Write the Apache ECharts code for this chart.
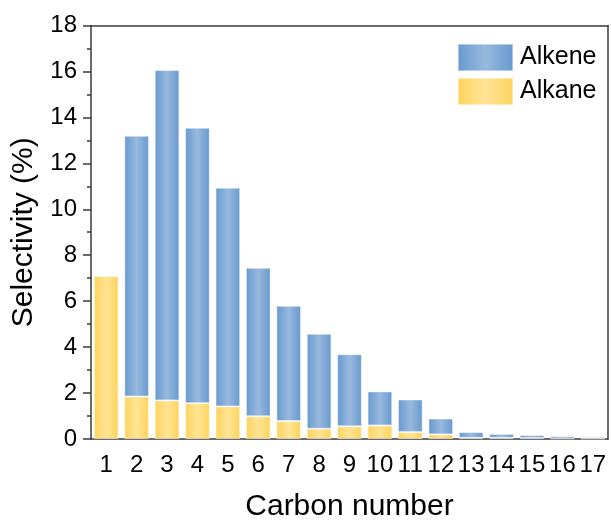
<!DOCTYPE html>
<html>
<head>
<meta charset="utf-8">
<script src="https://cdn.jsdelivr.net/npm/echarts@6/dist/echarts.min.js"></script>
<style>
html,body{margin:0;padding:0;background:#fff;}
#chart{width:611px;height:527px;}
</style>
</head>
<body>
<div id="chart"></div>
<script>
var categories = ['1','2','3','4','5','6','7','8','9','10','11','12','13','14','15','16','17'];
var alkane = [7.1, 1.85, 1.68, 1.56, 1.42, 0.99, 0.78, 0.45, 0.55, 0.59, 0.30, 0.20, 0.05, 0.05, 0.04, 0.02, 0.02];
var alkene = [0, 11.35, 14.38, 11.99, 9.52, 6.46, 5.02, 4.13, 3.14, 1.48, 1.42, 0.69, 0.25, 0.17, 0.13, 0.10, 0.06];
var yTicks = {min: 0, max: 18, interval: 2};

var FONT = '"Liberation Sans", Arial, sans-serif';
var AX = '#3a3a3a';

function hGrad(edge, mid) {
  return new echarts.graphic.LinearGradient(0, 0, 1, 0, [
    {offset: 0, color: edge},
    {offset: 0.5, color: mid},
    {offset: 1, color: edge}
  ]);
}

var chart = echarts.init(document.getElementById('chart'), null, {renderer: 'canvas'});
chart.setOption({
  animation: false,
  backgroundColor: '#fff',
  grid: {left: 91, right: 3, top: 25.5, bottom: 84.3},
  legend: {
    data: ['Alkene', 'Alkane'],
    orient: 'vertical',
    left: 457, top: 43,
    padding: 0,
    icon: 'rect',
    itemWidth: 55, itemHeight: 27, itemGap: 5,
    textStyle: {fontFamily: FONT, fontSize: 25, color: '#000', padding: [0, 0, 0, 2]}
  },
  xAxis: [
    {
      type: 'category', data: categories, position: 'bottom',
      name: 'Carbon number', nameLocation: 'middle', nameGap: 53,
      nameTextStyle: {fontFamily: FONT, fontSize: 30, color: '#000'},
      axisLine: {lineStyle: {color: AX, width: 1.5}},
      axisTick: {alignWithLabel: true, length: 7, inside: false, lineStyle: {color: AX, width: 1.5}},
      axisLabel: {fontFamily: FONT, fontSize: 24, color: '#000', margin: 14, interval: 0}
    },
    {
      type: 'category', data: categories, position: 'bottom',
      axisLine: {show: false},
      axisTick: {alignWithLabel: false, length: 4, lineStyle: {color: AX, width: 1.5}},
      axisLabel: {show: false}
    },
    {
      type: 'category', data: categories, position: 'top',
      axisLine: {lineStyle: {color: AX, width: 1.5}},
      axisTick: {show: false},
      axisLabel: {show: false}
    }
  ],
  yAxis: [
    {
      type: 'value', min: yTicks.min, max: yTicks.max, interval: yTicks.interval,
      name: 'Selectivity (%)', nameLocation: 'middle', nameGap: 52,
      nameTextStyle: {fontFamily: FONT, fontSize: 30, color: '#000'},
      axisLine: {show: true, lineStyle: {color: AX, width: 1.5}},
      axisTick: {show: true, length: 8, lineStyle: {color: AX, width: 1.5}},
      minorTick: {show: true, splitNumber: 2, length: 4, lineStyle: {color: AX, width: 1.5}},
      splitLine: {show: false},
      axisLabel: {fontFamily: FONT, fontSize: 24, color: '#000', margin: 14}
    },
    {
      type: 'value', min: yTicks.min, max: yTicks.max, interval: yTicks.interval, position: 'right',
      axisLine: {show: true, lineStyle: {color: AX, width: 1.5}},
      axisTick: {show: false}, axisLabel: {show: false}, splitLine: {show: false}
    }
  ],
  series: [
    {
      name: 'Alkane', type: 'bar', stack: 'total', data: alkane, barWidth: '81%',
      itemStyle: {color: hGrad('#fdd35a', '#ffe495'), borderColor: 'rgba(255,255,255,0.45)', borderWidth: 1}
    },
    {
      name: 'Alkene', type: 'bar', stack: 'total', data: alkene, barWidth: '81%',
      itemStyle: {color: hGrad('#6699cf', '#98b9de'), borderColor: 'rgba(255,255,255,0.45)', borderWidth: 1}
    }
  ]
});
</script>
</body>
</html>
